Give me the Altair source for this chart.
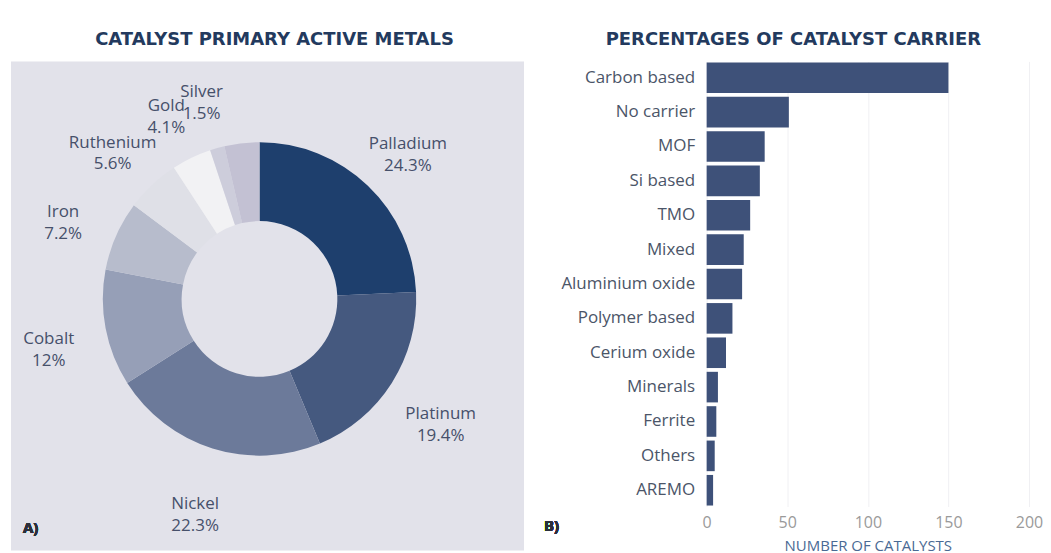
import altair as alt
import pandas as pd

# ---- data: left panel (donut) ----
metals = ["Palladium", "Platinum", "Nickel", "Cobalt", "Iron", "Ruthenium", "Gold", "Silver"]
metal_pct = [24.3, 19.4, 22.3, 12, 7.2, 5.6, 4.1, 1.5]
metal_colors = ["#1e3f6d", "#45597f", "#6c7a9a", "#969fb7", "#b7bccc", "#dfe0e7", "#f2f2f4", "#cdcddb"]
rest_name = "Unlabelled"
rest_color = "#c3c1d3"

# ---- data: right panel (bars) ----
carriers = ["Carbon based", "No carrier", "MOF", "Si based", "TMO", "Mixed", "Aluminium oxide",
            "Polymer based", "Cerium oxide", "Minerals", "Ferrite", "Others", "AREMO"]
carrier_counts = [150, 51, 36, 33, 27, 23, 22, 16, 12, 7, 6, 5, 4]
x_ticks = [0, 50, 100, 150, 200]

FONT = "Open Sans"
TFONT = "DejaVu Sans"
TITLE_COLOR = "#233a5e"

rest_pct = round(100 - sum(metal_pct), 1)
pie_df = pd.DataFrame({
    "metal": metals + [rest_name],
    "pct": metal_pct + [rest_pct],
    "idx": list(range(len(metals) + 1)),
    "label": [f"{m}\n{p:g}%" for m, p in zip(metals, metal_pct)] + [""],
})

bar_df = pd.DataFrame({"carrier": carriers, "count": carrier_counts})

cx, cy = 249, 238

pie_base = alt.Chart(pie_df)
theta = alt.Theta("pct:Q", stack=True)
order = alt.Order("idx:Q")

arcs = pie_base.mark_arc(innerRadius=78, outerRadius=157).encode(
    theta=theta,
    order=order,
    color=alt.Color("metal:N", scale=alt.Scale(domain=metals + [rest_name],
                                               range=metal_colors + [rest_color]), legend=None),
    x=alt.value(cx), y=alt.value(cy),
)

labels = pie_base.mark_text(radius=215, fontSize=17, lineBreak="\n", color="#46506a",
                            font=FONT, lineHeight=22).encode(
    theta=theta,
    order=order,
    text="label:N",
    x=alt.value(cx), y=alt.value(cy),
)

panel_a = pie_base.mark_text(font=FONT, fontSize=15, fontWeight="bold", color="#2b2f3a",
                             align="left").encode(
    x=alt.value(12), y=alt.value(467), text=alt.value("A)")
)

left = alt.layer(arcs, labels, panel_a).properties(
    width=514, height=490,
    view=alt.ViewBackground(fill="#e2e2ea", stroke=None),
    title=alt.TitleParams("CATALYST PRIMARY ACTIVE METALS", font=TFONT, fontSize=18,
                          fontWeight="bold", color=TITLE_COLOR, anchor="middle", offset=12, dx=7),
)

bars = alt.Chart(bar_df).mark_bar(color="#3e5179").encode(
    y=alt.Y("carrier:N", sort=carriers,
            scale=alt.Scale(paddingInner=0.11, paddingOuter=0.03),
            axis=alt.Axis(title=None, labelFont=FONT, labelFontSize=17, labelColor="#4b5568",
                          ticks=False, domain=False, labelPadding=12, labelLimit=300)),
    x=alt.X("count:Q", scale=alt.Scale(domain=[0, 200]),
            axis=alt.Axis(values=x_ticks, title="NUMBER OF CATALYSTS", grid=True,
                          gridColor="#f0f0f3", domain=False, ticks=False, labelFlush=False,
                          labelFont=FONT, labelColor="#9a9a9a", labelFontSize=16, labelPadding=8,
                          titleFont=FONT, titleFontSize=15, titleColor="#4a6a94",
                          titleFontWeight="normal", titlePadding=8)),
)

panel_b = alt.Chart(bar_df).mark_text(font=FONT, fontSize=15, fontWeight="bold", color="#2b2f3a",
                                      align="left").encode(
    x=alt.value(-163), y=alt.value(465), text=alt.value("B)")
)

right = alt.layer(bars, panel_b).properties(
    width=323, height=446,
    view=alt.ViewBackground(stroke=None),
    title=alt.TitleParams("PERCENTAGES OF CATALYST CARRIER", font=TFONT, fontSize=18,
                          fontWeight="bold", color=TITLE_COLOR, anchor="middle", offset=12,
                          frame="bounds"),
)

chart = alt.hconcat(left, right, spacing=183, bounds="flush").properties(
    padding={"left": 3, "top": 23, "right": 0, "bottom": 0}
).configure_view(stroke=None)

chart.save("out.html", embed_options={"renderer": "svg", "actions": False})
